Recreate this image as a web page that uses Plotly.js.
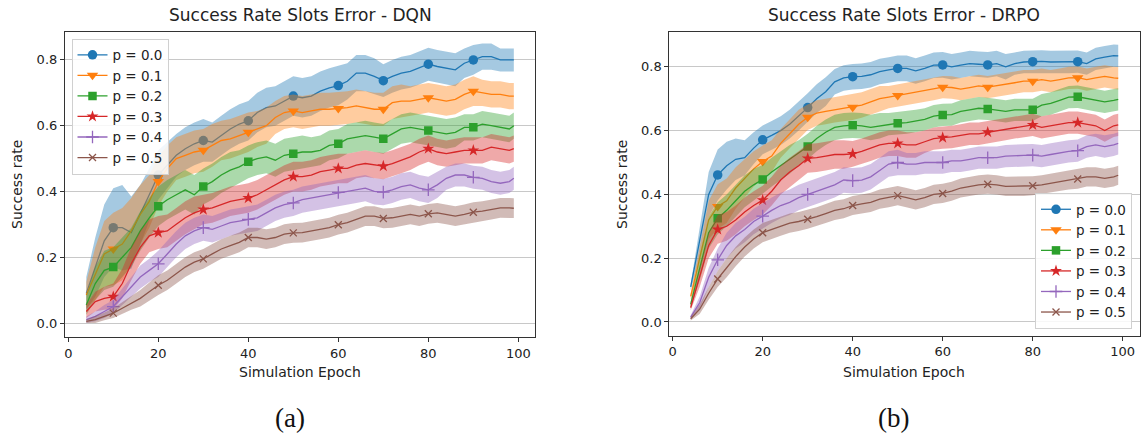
<!DOCTYPE html>
<html>
<head>
<meta charset="utf-8">
<script src="https://cdn.plot.ly/plotly-3.0.1.min.js"></script>
<style>
html,body{margin:0;padding:0;background:#fff;}
#chart{width:1142px;height:439px;}
</style>
</head>
<body>
<div id="chart"></div>
<script>
// ---------- DATA ----------
const epochs = [4,6,8,10,12,14,16,18,20,22,
  24,26,28,30,32,34,36,38,40,42,
  44,46,48,50,52,54,56,58,60,62,
  64,66,68,70,72,74,76,78,80,82,
  84,86,88,90,92,94,96,98,99];

const seriesLabels = ["p = 0.0","p = 0.1","p = 0.2","p = 0.3","p = 0.4","p = 0.5"];
const panelTitles = ["Success Rate Slots Error - DQN","Success Rate Slots Error - DRPO"];
const xTickVals = [0,20,40,60,80,100];
const yTickVals = [0.0,0.2,0.4,0.6,0.8];
const yTickText = ["0.0","0.2","0.4","0.6","0.8"];
const xLabel = "Simulation Epoch";
const yLabel = "Success rate";
const captions = ["(a)","(b)"];

// DQN mean success rate
const dqnP00 = [0.09,0.17,0.25,0.29,0.29,0.275,0.33,0.39,0.45,0.48,
  0.51,0.53,0.545,0.555,0.55,0.57,0.59,0.605,0.615,0.64,
  0.655,0.66,0.675,0.69,0.685,0.69,0.705,0.715,0.722,0.735,
  0.76,0.76,0.75,0.737,0.75,0.76,0.765,0.775,0.787,0.78,
  0.775,0.77,0.79,0.80,0.81,0.81,0.80,0.80,0.80];
const dqnP01 = [0.085,0.15,0.21,0.225,0.24,0.28,0.33,0.37,0.43,0.47,
  0.50,0.51,0.52,0.525,0.54,0.555,0.56,0.57,0.58,0.59,
  0.60,0.625,0.64,0.645,0.64,0.645,0.65,0.65,0.652,0.655,
  0.66,0.655,0.65,0.65,0.67,0.675,0.675,0.68,0.685,0.68,
  0.675,0.68,0.695,0.705,0.70,0.695,0.695,0.69,0.69];
const dqnP02 = [0.055,0.12,0.16,0.17,0.20,0.23,0.28,0.32,0.355,0.375,
  0.39,0.405,0.39,0.415,0.43,0.45,0.465,0.475,0.49,0.50,
  0.505,0.495,0.51,0.515,0.52,0.52,0.525,0.54,0.545,0.56,
  0.565,0.57,0.565,0.56,0.575,0.59,0.595,0.59,0.585,0.58,
  0.575,0.58,0.595,0.595,0.605,0.60,0.595,0.59,0.60];
const dqnP03 = [0.035,0.065,0.075,0.08,0.12,0.18,0.23,0.265,0.275,0.28,
  0.30,0.32,0.335,0.345,0.35,0.36,0.37,0.375,0.38,0.39,
  0.405,0.42,0.435,0.445,0.445,0.45,0.46,0.465,0.47,0.47,
  0.48,0.485,0.48,0.477,0.485,0.495,0.505,0.52,0.53,0.52,
  0.515,0.52,0.525,0.525,0.525,0.535,0.53,0.525,0.53];
const dqnP04 = [0.01,0.02,0.035,0.05,0.08,0.11,0.14,0.16,0.18,0.21,
  0.24,0.265,0.28,0.29,0.285,0.295,0.305,0.31,0.315,0.32,
  0.335,0.35,0.36,0.365,0.375,0.38,0.385,0.39,0.397,0.40,
  0.405,0.41,0.40,0.398,0.405,0.415,0.42,0.41,0.405,0.42,
  0.44,0.45,0.45,0.443,0.44,0.43,0.425,0.43,0.44];
const dqnP05 = [0.005,0.01,0.02,0.03,0.045,0.06,0.075,0.095,0.115,0.13,
  0.15,0.17,0.185,0.195,0.21,0.225,0.235,0.245,0.26,0.26,
  0.255,0.26,0.27,0.274,0.275,0.28,0.285,0.29,0.299,0.305,
  0.315,0.325,0.325,0.318,0.32,0.325,0.33,0.325,0.332,0.335,
  0.33,0.325,0.33,0.337,0.34,0.345,0.35,0.35,0.349];

// DQN band half-widths
const dqnBand00 = [0.05,0.09,0.11,0.12,0.13,0.11,0.09,0.08,0.075,0.07,
  0.065,0.065,0.065,0.065,0.06,0.06,0.06,0.06,0.06,0.06,
  0.06,0.06,0.06,0.06,0.06,0.06,0.06,0.06,0.06,0.055,
  0.055,0.055,0.055,0.05,0.05,0.05,0.05,0.05,0.05,0.05,
  0.05,0.05,0.045,0.045,0.04,0.04,0.035,0.035,0.035];
const dqnBand01 = [0.04,0.08,0.10,0.11,0.11,0.10,0.09,0.08,0.075,0.07,
  0.065,0.065,0.065,0.065,0.065,0.06,0.06,0.06,0.06,0.055,
  0.055,0.05,0.05,0.05,0.05,0.05,0.05,0.05,0.05,0.05,
  0.05,0.05,0.05,0.05,0.05,0.05,0.045,0.045,0.045,0.045,
  0.045,0.045,0.045,0.045,0.04,0.04,0.04,0.04,0.04];
const dqnBand02 = [0.03,0.05,0.06,0.06,0.06,0.06,0.06,0.06,0.06,0.06,
  0.06,0.06,0.06,0.055,0.055,0.055,0.055,0.05,0.05,0.05,
  0.05,0.05,0.05,0.05,0.05,0.045,0.045,0.045,0.045,0.045,
  0.045,0.045,0.045,0.045,0.045,0.045,0.045,0.045,0.045,0.045,
  0.045,0.045,0.04,0.04,0.04,0.04,0.04,0.04,0.04];
const dqnBand03 = [0.02,0.03,0.035,0.04,0.045,0.05,0.05,0.05,0.05,0.05,
  0.05,0.05,0.05,0.045,0.045,0.045,0.045,0.045,0.045,0.045,
  0.045,0.045,0.045,0.045,0.045,0.045,0.045,0.045,0.045,0.045,
  0.04,0.04,0.04,0.04,0.04,0.04,0.04,0.04,0.04,0.04,
  0.04,0.04,0.04,0.04,0.04,0.04,0.04,0.04,0.04];
const dqnBand04 = [0.01,0.015,0.02,0.02,0.025,0.03,0.035,0.035,0.04,0.04,
  0.04,0.04,0.04,0.04,0.04,0.04,0.04,0.04,0.04,0.04,
  0.04,0.04,0.04,0.04,0.04,0.04,0.04,0.04,0.04,0.04,
  0.04,0.04,0.04,0.04,0.04,0.04,0.04,0.04,0.04,0.04,
  0.035,0.035,0.035,0.035,0.035,0.035,0.035,0.035,0.035];
const dqnBand05 = [0.005,0.01,0.012,0.015,0.018,0.02,0.025,0.028,0.03,0.03,
  0.03,0.03,0.03,0.03,0.03,0.03,0.03,0.03,0.03,0.03,
  0.03,0.03,0.03,0.03,0.03,0.03,0.03,0.03,0.03,0.03,
  0.03,0.03,0.03,0.03,0.03,0.03,0.03,0.03,0.03,0.03,
  0.03,0.03,0.03,0.03,0.03,0.03,0.03,0.03,0.03];

// DRPO mean success rate
const drpoP00 = [0.11,0.25,0.40,0.461,0.49,0.51,0.515,0.545,0.571,0.585,
  0.60,0.62,0.645,0.672,0.70,0.722,0.753,0.765,0.769,0.77,
  0.775,0.785,0.79,0.795,0.795,0.787,0.795,0.805,0.806,0.80,
  0.805,0.81,0.808,0.806,0.81,0.80,0.81,0.815,0.816,0.817,
  0.815,0.815,0.815,0.816,0.81,0.825,0.83,0.835,0.834];
const drpoP01 = [0.08,0.20,0.32,0.362,0.38,0.42,0.45,0.48,0.503,0.52,
  0.56,0.59,0.62,0.642,0.655,0.66,0.665,0.67,0.673,0.68,
  0.69,0.70,0.705,0.71,0.715,0.72,0.725,0.73,0.736,0.735,
  0.73,0.735,0.74,0.736,0.74,0.745,0.75,0.755,0.755,0.76,
  0.755,0.76,0.765,0.766,0.76,0.765,0.77,0.765,0.764];
const drpoP02 = [0.055,0.17,0.28,0.325,0.35,0.38,0.41,0.43,0.447,0.47,
  0.49,0.51,0.53,0.55,0.575,0.595,0.61,0.615,0.617,0.615,
  0.61,0.615,0.62,0.623,0.625,0.63,0.635,0.645,0.649,0.65,
  0.66,0.665,0.67,0.668,0.665,0.66,0.665,0.665,0.665,0.68,
  0.685,0.695,0.705,0.706,0.70,0.695,0.69,0.695,0.698];
const drpoP03 = [0.045,0.14,0.24,0.29,0.30,0.32,0.345,0.365,0.382,0.41,
  0.445,0.47,0.49,0.513,0.515,0.52,0.525,0.525,0.527,0.535,
  0.545,0.555,0.56,0.56,0.555,0.555,0.565,0.575,0.578,0.58,
  0.585,0.59,0.59,0.595,0.60,0.605,0.61,0.615,0.618,0.61,
  0.615,0.62,0.625,0.625,0.62,0.615,0.60,0.615,0.618];
const drpoP04 = [0.015,0.06,0.14,0.195,0.24,0.27,0.29,0.315,0.332,0.35,
  0.365,0.375,0.39,0.40,0.41,0.42,0.43,0.445,0.443,0.445,
  0.455,0.475,0.495,0.50,0.495,0.495,0.50,0.50,0.50,0.505,
  0.505,0.51,0.515,0.515,0.515,0.52,0.52,0.522,0.523,0.52,
  0.525,0.53,0.535,0.537,0.55,0.555,0.55,0.555,0.56];
const drpoP05 = [0.01,0.04,0.09,0.135,0.17,0.205,0.235,0.26,0.28,0.29,
  0.30,0.31,0.315,0.322,0.33,0.34,0.35,0.355,0.365,0.37,
  0.375,0.385,0.39,0.396,0.39,0.383,0.39,0.40,0.403,0.41,
  0.42,0.425,0.43,0.432,0.43,0.425,0.425,0.425,0.427,0.43,
  0.435,0.44,0.445,0.448,0.455,0.455,0.45,0.455,0.46];

// DRPO band half-widths
const drpoBand00 = [0.01,0.05,0.07,0.08,0.075,0.065,0.055,0.05,0.045,0.045,
  0.045,0.045,0.045,0.045,0.045,0.045,0.04,0.04,0.04,0.04,
  0.04,0.04,0.04,0.04,0.04,0.04,0.04,0.04,0.04,0.04,
  0.04,0.04,0.04,0.04,0.04,0.04,0.035,0.035,0.035,0.035,
  0.035,0.035,0.035,0.035,0.035,0.035,0.035,0.035,0.035];
const drpoBand01 = [0.01,0.04,0.06,0.07,0.07,0.065,0.06,0.055,0.05,0.05,
  0.045,0.045,0.045,0.04,0.04,0.04,0.04,0.04,0.04,0.04,
  0.04,0.04,0.035,0.035,0.035,0.035,0.035,0.035,0.035,0.035,
  0.035,0.035,0.035,0.035,0.035,0.035,0.035,0.035,0.035,0.035,
  0.035,0.035,0.035,0.035,0.035,0.035,0.035,0.035,0.035];
const drpoBand02 = [0.01,0.04,0.05,0.05,0.05,0.05,0.05,0.05,0.045,0.045,
  0.045,0.045,0.04,0.04,0.04,0.04,0.04,0.04,0.04,0.04,
  0.04,0.04,0.035,0.035,0.035,0.035,0.035,0.035,0.035,0.035,
  0.035,0.035,0.035,0.035,0.035,0.035,0.035,0.035,0.035,0.035,
  0.035,0.035,0.035,0.035,0.035,0.035,0.035,0.035,0.035];
const drpoBand03 = [0.008,0.03,0.04,0.045,0.045,0.045,0.045,0.045,0.045,0.045,
  0.045,0.045,0.045,0.045,0.045,0.045,0.045,0.045,0.04,0.04,
  0.04,0.04,0.04,0.04,0.04,0.04,0.035,0.035,0.035,0.035,
  0.035,0.035,0.035,0.035,0.035,0.035,0.035,0.035,0.035,0.035,
  0.035,0.035,0.035,0.035,0.035,0.035,0.035,0.035,0.035];
const drpoBand04 = [0.006,0.02,0.03,0.035,0.04,0.04,0.04,0.04,0.04,0.04,
  0.04,0.04,0.04,0.04,0.04,0.04,0.04,0.04,0.04,0.04,
  0.04,0.04,0.04,0.04,0.035,0.035,0.035,0.035,0.035,0.035,
  0.035,0.035,0.035,0.035,0.035,0.035,0.035,0.035,0.035,0.035,
  0.035,0.035,0.035,0.035,0.035,0.035,0.035,0.035,0.035];
const drpoBand05 = [0.005,0.015,0.02,0.025,0.03,0.03,0.03,0.03,0.03,0.03,
  0.03,0.03,0.03,0.03,0.03,0.03,0.03,0.03,0.03,0.03,
  0.03,0.03,0.03,0.03,0.03,0.03,0.03,0.03,0.03,0.03,
  0.03,0.03,0.03,0.03,0.03,0.03,0.03,0.03,0.03,0.03,
  0.03,0.03,0.03,0.03,0.03,0.03,0.03,0.03,0.03];

// ---------- STYLE ----------
const colors = ["#1f77b4","#ff7f0e","#2ca02c","#d62728","#9467bd","#8c564b"];
const fills = ["rgba(31,119,180,0.4)","rgba(255,127,14,0.4)","rgba(44,160,44,0.4)",
               "rgba(214,39,40,0.4)","rgba(148,103,189,0.4)","rgba(140,86,75,0.4)"];
const symbols = ["circle","triangle-down","square","star","cross-thin-open","x-thin-open"];
const symSizes = [9.5,10,8.5,9,9,7];

const panels = [
  {means:[dqnP00,dqnP01,dqnP02,dqnP03,dqnP04,dqnP05],
   bands:[dqnBand00,dqnBand01,dqnBand02,dqnBand03,dqnBand04,dqnBand05],
   xa:"x", ya:"y", legend:"legend"},
  {means:[drpoP00,drpoP01,drpoP02,drpoP03,drpoP04,drpoP05],
   bands:[drpoBand00,drpoBand01,drpoBand02,drpoBand03,drpoBand04,drpoBand05],
   xa:"x2", ya:"y2", legend:"legend2"}
];

function markerStyle(i){
  const thin = symbols[i].indexOf("thin") >= 0;
  return {symbol:symbols[i], size:symSizes[i], color:colors[i],
          line:{width: thin ? 1.3 : 0, color:colors[i]}};
}

const traces = [];
panels.forEach(function(p){
  for (let i = 0; i < 6; i++){
    const m = p.means[i], b = p.bands[i];
    const up = m.map((v,k)=>v + b[k]);
    const lo = m.map((v,k)=>v - b[k]);
    traces.push({type:"scatter", mode:"lines", xaxis:p.xa, yaxis:p.ya,
      x: epochs.concat(epochs.slice().reverse()),
      y: up.concat(lo.slice().reverse()),
      fill:"toself", fillcolor:fills[i], line:{width:0, color:"rgba(0,0,0,0)"},
      hoverinfo:"skip", showlegend:false});
    traces.push({type:"scatter", mode:"lines", xaxis:p.xa, yaxis:p.ya,
      x: epochs, y: m, line:{color:colors[i], width:1.3},
      hoverinfo:"skip", showlegend:false});
    const mx = [], my = [];
    epochs.forEach((e,k)=>{ if (e % 10 === 0){ mx.push(e); my.push(m[k]); } });
    traces.push({type:"scatter", mode:"markers", xaxis:p.xa, yaxis:p.ya,
      x: mx, y: my, marker: markerStyle(i), hoverinfo:"skip", showlegend:false});
  }
  for (let i = 0; i < 6; i++){
    traces.push({type:"scatter", mode:"lines+markers", xaxis:p.xa, yaxis:p.ya,
      x:[null], y:[null], name:seriesLabels[i], legend:p.legend, showlegend:true,
      line:{color:colors[i], width:1.3}, marker: markerStyle(i)});
  }
});

const W = 1142, H = 439;
const fontFam = "DejaVu Sans, Verdana, sans-serif";
function xa(domain){
  return {domain:domain, range:[-0.75,103.75], tickvals:xTickVals, ticks:"outside",
    ticklen:4, tickwidth:1, tickcolor:"#333", showline:true, mirror:true,
    linecolor:"#333", linewidth:1, showgrid:false, zeroline:false,
    tickfont:{family:fontFam, size:13, color:"#222"}, fixedrange:true};
}
function ya(domain, range){
  return {domain:domain, range:range, tickvals:yTickVals, ticktext:yTickText, ticks:"outside",
    ticklen:4, tickwidth:1, tickcolor:"#333", showline:true, mirror:true,
    linecolor:"#333", linewidth:1, showgrid:true, gridcolor:"#c8c8c8", gridwidth:1,
    zeroline:false, tickfont:{family:fontFam, size:13, color:"#222"}, fixedrange:true};
}
function ann(text, px, py, size, opts){
  return Object.assign({text:text, xref:"paper", yref:"paper", x:px/W, y:1-py/H,
    xanchor:"center", yanchor:"middle", showarrow:false,
    font:{family:fontFam, size:size, color:"#222"}}, opts||{});
}
const legendStyle = {bgcolor:"rgba(255,255,255,0.85)", bordercolor:"#d0d0d0", borderwidth:1,
  font:{family:fontFam, size:13.5, color:"#222"}, tracegroupgap:0, itemwidth:30};

const layout = {
  width:W, height:H, margin:{l:0,r:0,t:0,b:0},
  paper_bgcolor:"#fff", plot_bgcolor:"#fff",
  xaxis: xa([64.9/W, 535.2/W]),
  yaxis: ya([1-337.3/H, 1-32.3/H], [-0.0435, 0.884]),
  xaxis2: Object.assign(xa([669.3/W, 1139.6/W]), {anchor:"y2"}),
  yaxis2: Object.assign(ya([1-335.7/H, 1-31.7/H], [-0.043, 0.910]), {anchor:"x2"}),
  legend: Object.assign({x:71.5/W, y:1-38.5/H, xanchor:"left", yanchor:"top"}, legendStyle),
  legend2: Object.assign({x:1132/W, y:1-329/H, xanchor:"right", yanchor:"bottom"}, legendStyle),
  annotations:[
    ann(panelTitles[0], 300, 15, 17),
    ann(panelTitles[1], 904.5, 15, 17),
    ann(xLabel, 300, 372, 14),
    ann(xLabel, 904.5, 372, 14),
    ann(yLabel, 17, 185, 14, {textangle:-90}),
    ann(yLabel, 622, 185, 14, {textangle:-90}),
    ann(captions[0], 290, 418, 27, {font:{family:"Liberation Serif, DejaVu Serif, serif", size:27, color:"#111"}}),
    ann(captions[1], 893, 418, 27, {font:{family:"Liberation Serif, DejaVu Serif, serif", size:27, color:"#111"}})
  ],
  showlegend:true
};

Plotly.newPlot("chart", traces, layout, {staticPlot:true, displayModeBar:false});
</script>
</body>
</html>
